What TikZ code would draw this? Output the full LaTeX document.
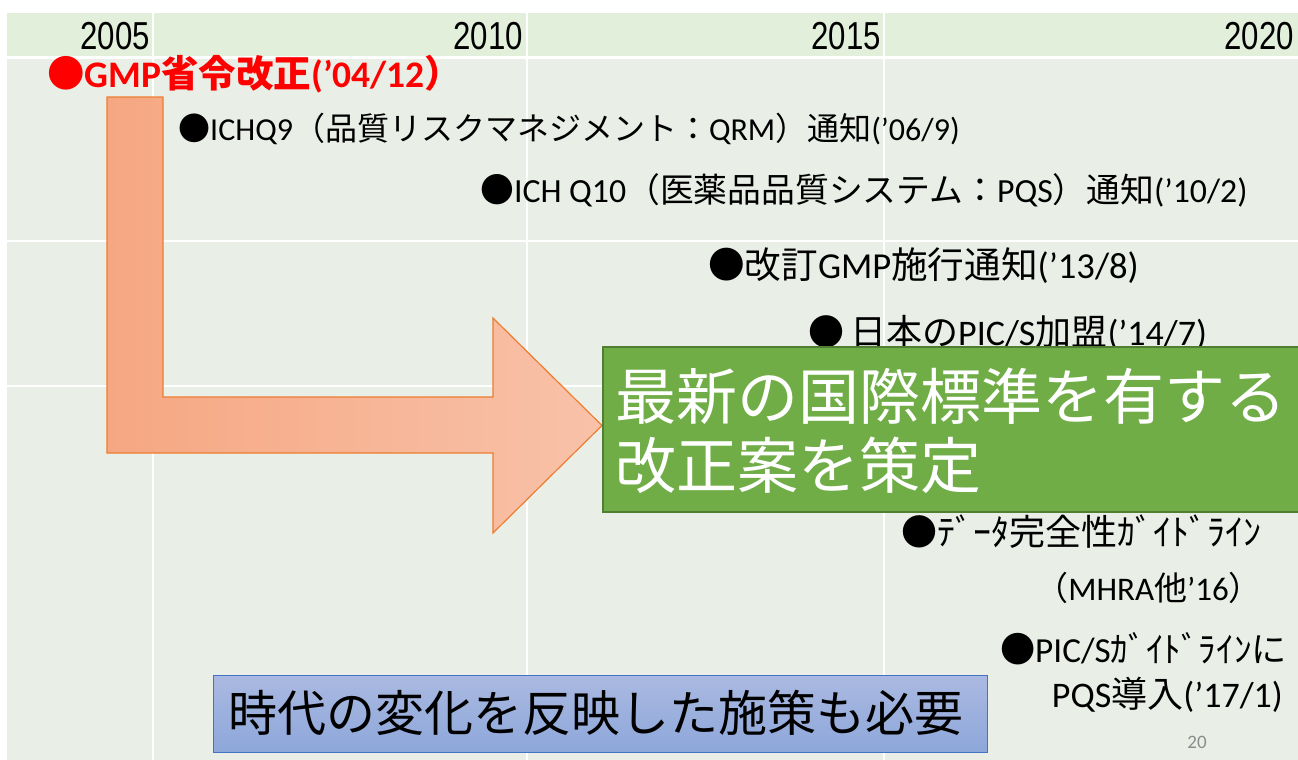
\documentclass[tikz,border=0pt]{standalone}
\usepackage{fontspec}
\setmainfont{Carlito}
\newfontfamily\jp{Noto Sans CJK JP}
\newfontfamily\yr[FakeStretch=0.8]{Liberation Sans}
\newcommand\jj[1]{{\jp #1}}
\definecolor{hdr}{HTML}{E2EFDA}
\definecolor{bodyc}{HTML}{E9EFE7}
\definecolor{arrL}{HTML}{F6A782}
\definecolor{arrR}{HTML}{F8C2A9}
\definecolor{arrE}{HTML}{ED7D31}
\definecolor{grn}{HTML}{70AD47}
\definecolor{grnE}{HTML}{507E32}
\definecolor{bluT}{HTML}{AAB9E1}
\definecolor{bluB}{HTML}{8DA7DA}
\definecolor{bluE}{HTML}{4472C4}
\definecolor{pgc}{HTML}{8C8C8C}
\tikzset{
  yearlbl/.style={anchor=base east, inner sep=0pt, font=\yr\fontsize{39}{40}\selectfont},
  evt/.style={anchor=base west, inner sep=0pt, font=\fontsize{32}{36}\selectfont},
  evtb/.style={anchor=base west, inner sep=0pt, font=\fontsize{36}{40}\selectfont},
  evtr/.style={anchor=base east, inner sep=0pt, font=\fontsize{36}{40}\selectfont},
  greentxt/.style={anchor=base west, inner sep=0pt, text=white, font=\jp\fontsize{61}{69}\selectfont},
  gridline/.style={draw=white, line width=2.5pt},
}
\begin{document}
\begin{tikzpicture}[x=1pt, y=-1pt]
\useasboundingbox (0,0) rectangle (1298,760);
\fill[white] (0,0) rectangle (1298,760);
% header and body
\fill[hdr] (7,13) rectangle (1298,57);
\fill[bodyc] (7,58) rectangle (1298,760);
\draw[gridline] (7,57.5) -- (1298,57.5);
\draw[gridline] (7,241) -- (1298,241);
\draw[gridline] (7,386) -- (1298,386);
\draw[gridline] (153,13) -- (153,760);
\draw[gridline] (527,13) -- (527,760);
\draw[gridline] (884,13) -- (884,760);
% years
\node[yearlbl] (y2005) at (150,50) {2005};
\node[yearlbl] (y2010) at (523,50) {2010};
\node[yearlbl] (y2015) at (881,50) {2015};
\node[yearlbl] (y2020) at (1294,50) {2020};
% bent arrow
\path[left color=arrL, right color=arrR, draw=arrE, line width=1.2pt]
  (107,97) -- (163,97) -- (163,397) -- (493,397) -- (493,318) -- (602,425.5)
  -- (493,533) -- (493,453) -- (107,453) -- cycle;
% events
\node[anchor=base west, inner sep=0pt, text=red, font=\bfseries\fontsize{37.5}{40}\selectfont] (gmp) at (47,87)
  {\jj{\bfseries ●}GMP\jj{\bfseries 省令改正}(’04/12\jj{\bfseries ）}};
\node[evt] (q9) at (178,140) {\jj{●}ICHQ9\jj{（品質リスクマネジメント：}QRM\jj{）通知}(’06/9)};
\node[evt, font=\fontsize{33.8}{38}\selectfont] (q10) at (480,202) {\jj{●}ICH Q10\jj{（医薬品品質システム：}PQS\jj{）通知}(’10/2)};
\node[evtb, font=\fontsize{36.6}{40}\selectfont] (gmp13) at (708,278) {\jj{●改訂}GMP\jj{施行通知}(’13/8)};
\node[evtb] (pics) at (808,345) {\jj{●}\,\jj{日本の}PIC/S\jj{加盟}(’14/7)};
% green box
\node[draw=grnE, line width=1.5pt, fill=grn, inner sep=0pt, minimum width=697pt, minimum height=165pt, anchor=north west] (green) at (602,346) {};
\node[greentxt] (greent1) at (615,419) {最新の国際標準を有する};
\node[greentxt] (greent2) at (615,488) {改正案を策定};
% lower right events
\node[evtr] (di) at (1262,545) {\jj{●ﾃﾞｰﾀ完全性ｶﾞｲﾄﾞﾗｲﾝ}};
\node[evtr, font=\fontsize{33}{38}\selectfont] (mhra) at (1262,600) {\jj{（}MHRA\jj{他}’16\jj{）}};
\node[evtr, font=\fontsize{35.2}{40}\selectfont] (picg) at (1287,662) {\jj{●}PIC/S\jj{ｶﾞｲﾄﾞﾗｲﾝに}};
\node[evtr] (pqs) at (1283,707) {PQS\jj{導入}(’17/1)};
% blue box
\node[draw=bluE, line width=1.2pt, top color=bluT, bottom color=bluB, inner sep=0pt, minimum width=774pt, minimum height=77pt, anchor=north west] (blue) at (213,675) {};
\node[anchor=base west, inner sep=0pt, font=\jp\fontsize{49}{55}\selectfont] (bluet) at (228,731) {時代の変化を反映した施策も必要};
% page number
\node[anchor=base, inner sep=0pt, text=pgc, font=\fontsize{19}{20}\selectfont] (pg) at (1197,748) {20};
\end{tikzpicture}
\end{document}
